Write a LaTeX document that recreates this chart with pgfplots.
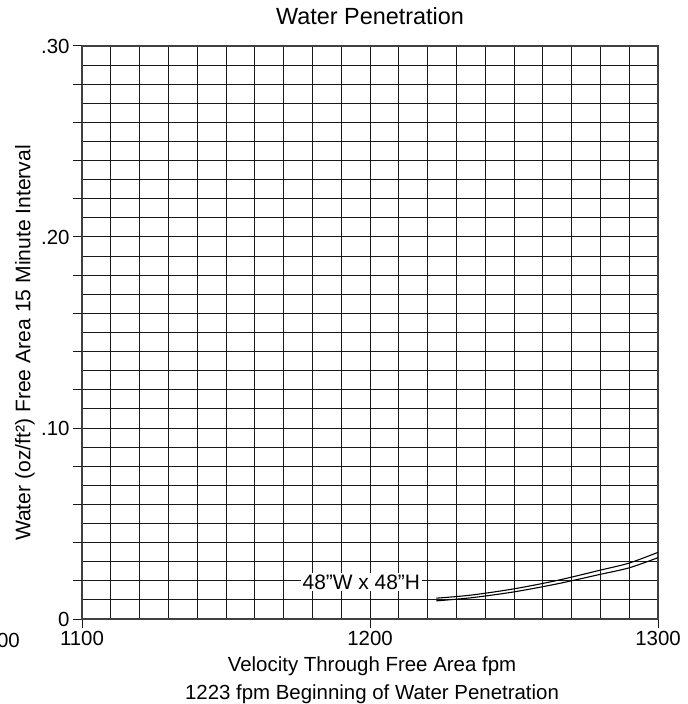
\documentclass[border=0pt]{standalone}
\usepackage{pgfplots}
\pgfplotsset{compat=1.18}
\usepackage{fontspec}
\setmainfont{Liberation Sans}

\begin{document}
\begin{tikzpicture}
\begin{axis}[
  name=ax,
  width=576bp, height=573bp, scale only axis,
  xmin=1100, xmax=1300, ymin=0, ymax=0.30,
  xtick={1100,1200,1300},
  xticklabels={1100,1200,1300},
  ytick={0,0.1,0.2,0.3},
  yticklabels={0\hspace{9bp},.10,.20,.30},
  minor x tick num=9, minor y tick num=9,
  minor tick length=0pt,
  major tick length=9bp,
  tick align=outside, tick pos=left,
  grid=both,
  major grid style={black!90, line width=1bp},
  minor grid style={black!90, line width=1bp},
  axis line style={black!75, line width=1.6bp},
  tick style={black!90, line width=1bp},
  extra y ticks={0.02,0.04,0.06,0.08,0.12,0.14,0.16,0.18,0.22,0.24,0.26,0.28},
  extra y tick labels={},
  extra y tick style={grid=none},
  ticklabel style={font=\fontsize{20.5}{25}\selectfont},
  clip=false,
]
% upper and lower trace of the band
\addplot[black, line width=1.1bp, smooth] coordinates {
  (1223,0.0109) (1235,0.0125) (1250,0.0158) (1265,0.0202)
  (1280,0.0256) (1290,0.0293) (1300,0.0349)
};
\addplot[black, line width=1.1bp, smooth] coordinates {
  (1223,0.0095) (1235,0.0111) (1250,0.0142) (1265,0.0184)
  (1280,0.0234) (1290,0.0268) (1300,0.0321)
};
\node[fill=white, inner sep=2bp, font=\fontsize{21}{25}\selectfont]
  at (axis cs:1197,0.0194) {48”W x 48”H};
\end{axis}

\begin{scope}[shift={(ax.south west)}, xshift=-82bp, yshift=619bp, x=1bp, y=-1bp]
  \node[anchor=base, inner sep=0, font=\fontsize{23.5}{28}\selectfont] at (370,25) {Water Penetration};
  \node[anchor=base, inner sep=0, font=\fontsize{20.5}{25}\selectfont] at (372,671) {Velocity Through Free Area fpm};
  \node[anchor=base, inner sep=0, font=\fontsize{20.5}{25}\selectfont] at (372,699) {1223 fpm Beginning of Water Penetration};
  \node[anchor=base, rotate=90, inner sep=0, font=\fontsize{21.2}{25}\selectfont] at (30.5,343) {Water (oz/ft²) Free Area 15 Minute Interval};
  \node[anchor=base east, inner sep=0, font=\fontsize{20.5}{25}\selectfont] at (20,647) {1100};
  \pgfresetboundingbox
  \path[use as bounding box] (0,0) rectangle (688,704);
\end{scope}
\end{tikzpicture}
\end{document}
